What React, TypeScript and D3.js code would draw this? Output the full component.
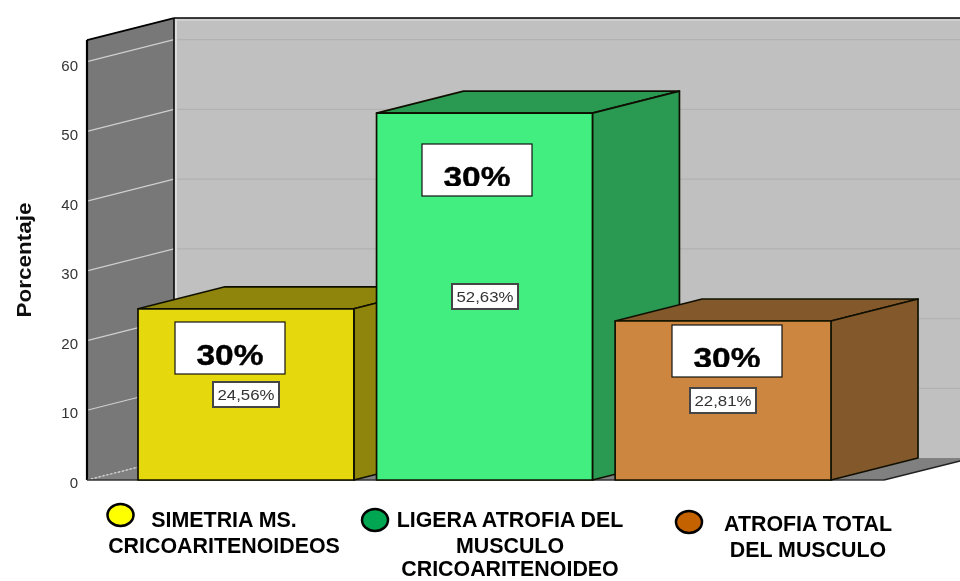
import React from "react";
import * as d3 from "d3";

const categories = ["SIMETRIA", "LIGERA", "TOTAL"];
const values = [24.56, 52.63, 22.81];
const valueLabels = ["24,56%", "52,63%", "22,81%"];
const bigLabels = ["30%", "30%", "30%"];
const frontColors = ["#e5d90f", "#43ee80", "#cc8640"];
const sideColors = ["#8f8509", "#2b9a53", "#83582b"];
const ticks = [0, 10, 20, 30, 40, 50, 60];
const legendColors = ["#ffff00", "#00a651", "#c46200"];
const legendLines = [
  ["SIMETRIA MS.", "CRICOARITENOIDEOS"],
  ["LIGERA ATROFIA DEL", "MUSCULO", "CRICOARITENOIDEO"],
  ["ATROFIA TOTAL", "DEL MUSCULO"],
];
const legendCenters = [224, 510, 808];
const legendFirstBaselines = [527, 527, 531];
const legendLineOffsets = [0, 25.7, 49.3];
const legendMarkers: [number, number][] = [[120.5, 515], [375, 520], [689, 522]];
const bigBoxes: [number, number][] = [[175, 322], [422, 144], [672, 325]];
const smallBoxes: [number, number][] = [[213, 382], [452, 284], [690, 388]];

const DX = 87;
const DY = -22;
const y = d3.scaleLinear().domain([0, 60]).range([480, 61.7]);
const labelY = d3.scaleLinear().domain([0, 60]).range([482, 65]);
const x = d3.scaleBand<string>().domain(categories).range([138, 831]).paddingInner(0.095).paddingOuter(0);
const font = "'Liberation Sans', Arial, sans-serif";
const poly = (p: number[][]) => d3.line()(p as [number, number][]) + "Z";

export default function App() {
  const top = y(63.1);
  const left = 87;
  const floorRight = 884;
  return (
    <svg width={960} height={581} style={{ position: "fixed", left: 0, top: 0, background: "#fff" }} fontFamily={font}>
      <defs>
        <filter id="soft" x="0" y="0" width="960" height="581" filterUnits="userSpaceOnUse">
          <feGaussianBlur stdDeviation="0.5" />
        </filter>
        {bigBoxes.map(([bx, by], i) => (
          <clipPath id={`c${i}`} key={i}>
            <rect x={bx} y={by} width={110} height={i === 0 ? 52 : 42} />
          </clipPath>
        ))}
      </defs>
      <g filter="url(#soft)">
        <rect x={0} y={0} width={960} height={581} fill="#fff" />
        <rect x={left + DX} y={top + DY} width={800} height={y(0) - top} fill="#c0c0c0" />
        <path d={poly([[left, y(0)], [left + DX, y(0) + DY], [960, y(0) + DY], [960, 461], [floorRight, y(0)]])} fill="#808080" />
        <path d={poly([[left, top], [left + DX, top + DY], [left + DX, y(0) + DY], [left, y(0)]])} fill="#787878" />
        {ticks.slice(1).map(t => (
          <g key={t}>
            <line x1={left + DX} x2={960} y1={y(t) + DY} y2={y(t) + DY} stroke="#b2b2b2" strokeWidth={1.2} />
            <line x1={left} x2={left + DX} y1={y(t)} y2={y(t) + DY} stroke="#cfcfcf" strokeWidth={1.2} />
          </g>
        ))}
        <line x1={left} x2={left + DX} y1={y(0)} y2={y(0) + DY} stroke="#d2d2d2" strokeWidth={1.5} strokeDasharray="2 2" />
        <line x1={left + DX + 2} y1={top + DY} x2={left + DX + 2} y2={y(0) + DY} stroke="#dcdcdc" strokeWidth={2} />
        <line x1={left + DX} y1={top + DY + 2} x2={960} y2={top + DY + 2} stroke="#d4d4d4" strokeWidth={1.5} />
        <line x1={left} y1={top} x2={left + DX} y2={top + DY} stroke="#000" strokeWidth={1.8} />
        <line x1={left + DX} y1={top + DY} x2={960} y2={top + DY} stroke="#000" strokeWidth={1.5} />
        <line x1={left + DX} y1={top + DY} x2={left + DX} y2={y(0) + DY} stroke="#000" strokeWidth={1.5} />
        <line x1={left} y1={top} x2={left} y2={y(0)} stroke="#000" strokeWidth={2.2} />
        <line x1={left} y1={y(0)} x2={floorRight} y2={y(0)} stroke="#333" strokeWidth={1.5} />
        <line x1={floorRight} y1={y(0)} x2={960} y2={461} stroke="#222" strokeWidth={1.5} />
        {ticks.map(t => (
          <text key={t} x={78} y={labelY(t) + 5.5} textAnchor="end" fontSize={15} fill="#333">{t}</text>
        ))}
        <text transform="translate(31,260) rotate(-90)" textAnchor="middle" fontSize={20} fontWeight="bold" fill="#111" textLength={115} lengthAdjust="spacingAndGlyphs">Porcentaje</text>
        {categories.map((c, i) => {
          const x0 = x(c)!;
          const w = x.bandwidth();
          const yt = y(values[i]);
          const yb = y(0);
          return (
            <g key={c} stroke="#111100" strokeWidth={1.7} strokeLinejoin="round">
              <path d={poly([[x0, yt], [x0 + DX, yt + DY], [x0 + w + DX, yt + DY], [x0 + w, yt]])} fill={sideColors[i]} />
              <path d={poly([[x0 + w, yt], [x0 + w + DX, yt + DY], [x0 + w + DX, yb + DY], [x0 + w, yb]])} fill={sideColors[i]} />
              <rect x={x0} y={yt} width={w} height={yb - yt} fill={frontColors[i]} />
            </g>
          );
        })}
        {bigBoxes.map(([bx, by], i) => (
          <g key={i}>
            <rect x={bx} y={by} width={110} height={52} fill="#fff" stroke="#111" strokeWidth={1.2} />
            <text x={bx + 55} y={by + 43} textAnchor="middle" fontSize={30} fontWeight="bold" fill="#000" stroke="#000" strokeWidth={0.4} textLength={67} lengthAdjust="spacingAndGlyphs" clipPath={`url(#c${i})`}>{bigLabels[i]}</text>
          </g>
        ))}
        {smallBoxes.map(([bx, by], i) => (
          <g key={i}>
            <rect x={bx} y={by} width={66} height={25} fill="#fff" stroke="#444" strokeWidth={2} />
            <text x={bx + 33} y={by + 18} textAnchor="middle" fontSize={15} fill="#333" textLength={57} lengthAdjust="spacingAndGlyphs">{valueLabels[i]}</text>
          </g>
        ))}
        {legendLines.map((lines, i) => (
          <g key={i}>
            <ellipse cx={legendMarkers[i][0]} cy={legendMarkers[i][1]} rx={13} ry={11} fill={legendColors[i]} stroke="#000" strokeWidth={2.5} />
            {lines.map((l, j) => (
              <text key={j} x={legendCenters[i]} y={legendFirstBaselines[i] + legendLineOffsets[j]} textAnchor="middle" fontSize={21.4} fontWeight="bold" fill="#000">{l}</text>
            ))}
          </g>
        ))}
      </g>
    </svg>
  );
}
